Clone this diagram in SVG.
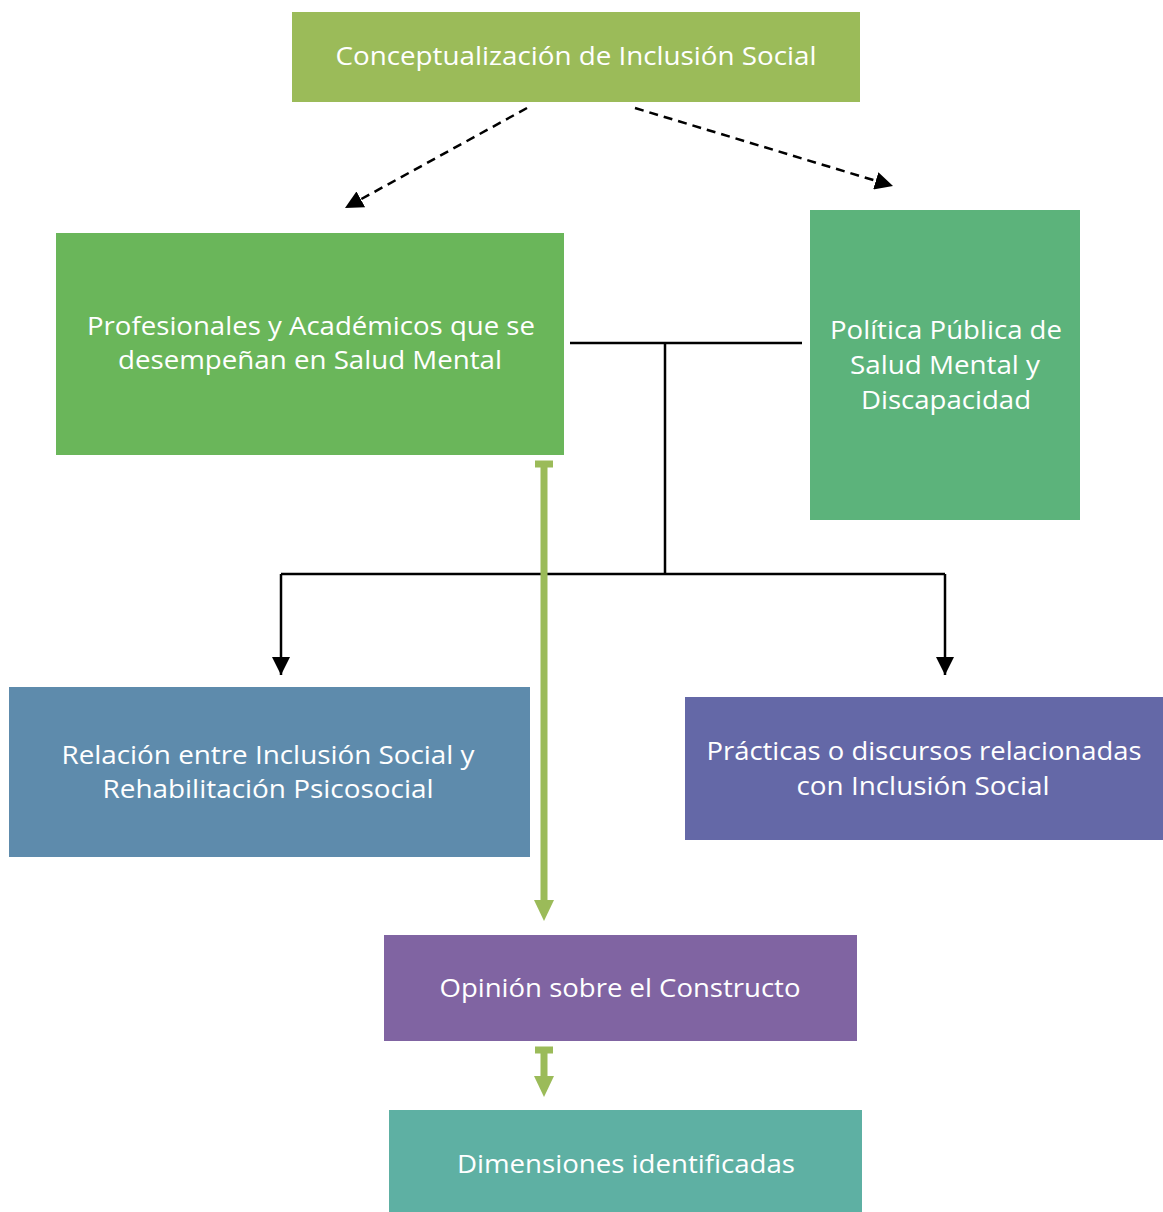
<svg xmlns="http://www.w3.org/2000/svg" width="1163" height="1212" viewBox="0 0 1163 1212">
<defs>
<style>
text{font-family:"Open Sans","Noto Sans","Liberation Sans",sans-serif;font-size:26px;fill:#fff;text-anchor:middle}
.blk{stroke:#000;stroke-width:2.5;fill:none}
.dash{stroke:#000;stroke-width:2.5;fill:none;stroke-dasharray:9 6}
.grn{stroke:#9BBB59;stroke-width:7;fill:none}
</style>
<marker id="ab" viewBox="0 0 10 10" refX="10" refY="5" markerWidth="6" markerHeight="6" markerUnits="userSpaceOnUse" orient="auto"><path d="M0,0L10,5L0,10z" fill="#000"/></marker>
<marker id="ab2" viewBox="0 0 10 10" refX="10" refY="5" markerWidth="18" markerHeight="18" markerUnits="userSpaceOnUse" orient="auto"><path d="M0,0L10,5L0,10z" fill="#000"/></marker>
</defs>
<g id="n1"><rect x="292" y="12" width="568" height="90" fill="#9BBB59"/><text x="576" y="65" textLength="481" lengthAdjust="spacingAndGlyphs">Conceptualización de Inclusión Social</text></g>
<g id="n2"><rect x="56" y="233" width="508" height="222" fill="#6AB65A"/><text x="311" y="335" textLength="448" lengthAdjust="spacingAndGlyphs">Profesionales y Académicos que se</text><text x="310" y="369" textLength="384" lengthAdjust="spacingAndGlyphs">desempeñan en Salud Mental</text></g>
<g id="n3"><rect x="810" y="210" width="270" height="310" fill="#5CB37B"/><text x="946" y="339" textLength="232" lengthAdjust="spacingAndGlyphs">Política Pública de</text><text x="945" y="374" textLength="190" lengthAdjust="spacingAndGlyphs">Salud Mental y</text><text x="946" y="409" textLength="170" lengthAdjust="spacingAndGlyphs">Discapacidad</text></g>
<g id="n4"><rect x="9" y="687" width="521" height="170" fill="#5E8BAC"/><text x="268" y="764" textLength="413" lengthAdjust="spacingAndGlyphs">Relación entre Inclusión Social y</text><text x="268" y="798" textLength="331" lengthAdjust="spacingAndGlyphs">Rehabilitación Psicosocial</text></g>
<g id="n5"><rect x="685" y="697" width="478" height="143" fill="#6468A7"/><text x="924" y="760" textLength="435" lengthAdjust="spacingAndGlyphs">Prácticas o discursos relacionadas</text><text x="923" y="795" textLength="253" lengthAdjust="spacingAndGlyphs">con Inclusión Social</text></g>
<g id="n6"><rect x="384" y="935" width="473" height="106" fill="#8064A2"/><text x="620" y="997" textLength="361" lengthAdjust="spacingAndGlyphs">Opinión sobre el Constructo</text></g>
<g id="n7"><rect x="389" y="1110" width="473" height="102" fill="#5EB0A3"/><text x="626" y="1173" textLength="338" lengthAdjust="spacingAndGlyphs">Dimensiones identificadas</text></g>
<g id="connectors">
<path class="dash" d="M527,108L345,208" marker-end="url(#ab2)"/>
<path class="dash" d="M635,108L893,186" marker-end="url(#ab2)"/>
<path class="blk" d="M570,343H802M665,343V574M281,574H945"/>
<path class="blk" d="M281,574V675" marker-end="url(#ab2)"/>
<path class="blk" d="M945,574V675" marker-end="url(#ab2)"/>
<path class="grn" d="M535,464H553M544,464V905"/>
<path d="M534,900H554L544,921z" fill="#9BBB59"/>
<path class="grn" d="M535,1050H553M544,1050V1080"/>
<path d="M534,1076H554L544,1097z" fill="#9BBB59"/>
</g>
</svg>
